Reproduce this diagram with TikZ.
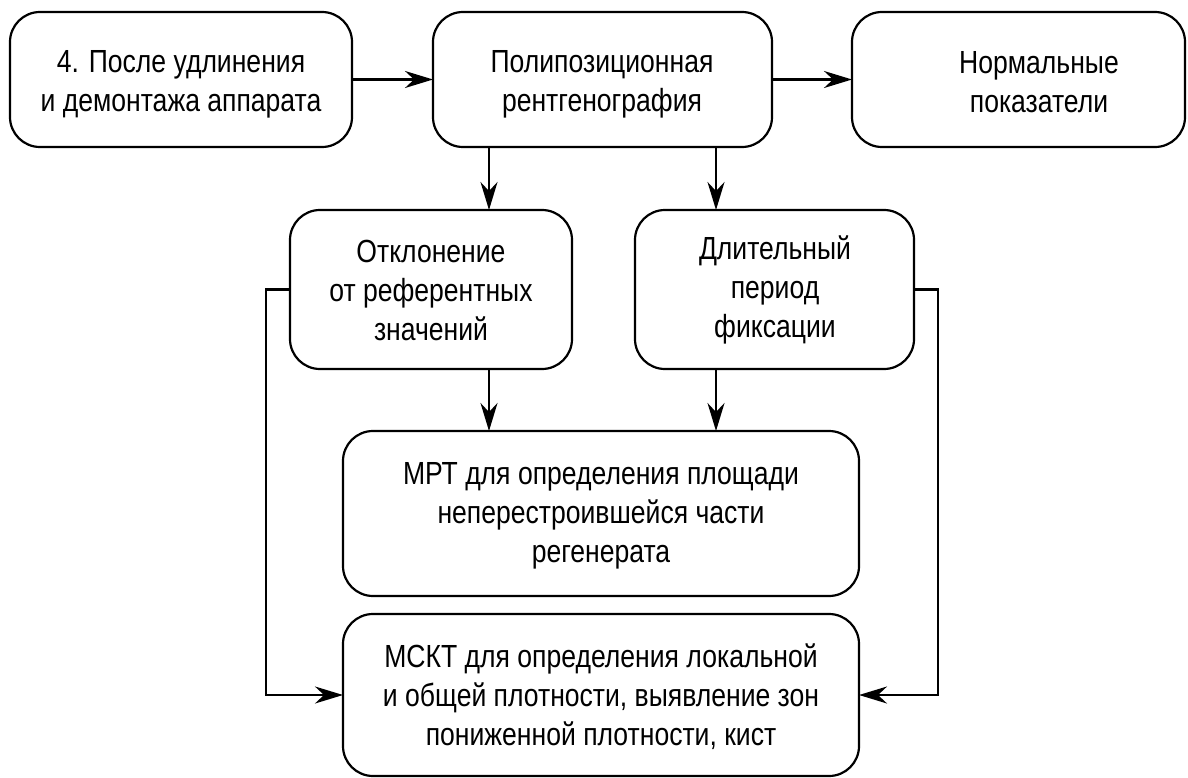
\documentclass[tikz,border=0pt]{standalone}
\usepackage{fontspec}
\setmainfont{Liberation Sans}[FakeStretch=0.83]
\usetikzlibrary{arrows.meta}
\begin{document}
\begin{tikzpicture}[x=1pt,y=-1pt,
  box/.style={draw=black, line width=2.2pt, rounded corners=30pt, rectangle, inner sep=0pt, outer sep=0pt},
  txt/.style={align=center, font=\fontsize{32}{39}\selectfont, inner sep=0pt},
  arr/.style={draw=black, line width=2.2pt, -{Stealth[length=28pt,width=17pt,inset=9pt]}},
  lin/.style={draw=black, line width=2.2pt}]
\useasboundingbox (0,0) rectangle (1188,778);
% boxes
\node[box, minimum width=342pt, minimum height=135pt] (b1) at (181,79.5) {};
\node[box, minimum width=339pt, minimum height=135pt] (b2) at (602.5,79.5) {};
\node[box, minimum width=333pt, minimum height=135pt] (b3) at (1018.5,79.5) {};
\node[box, minimum width=282pt, minimum height=159pt] (b4) at (431,289.5) {};
\node[box, minimum width=279pt, minimum height=159pt] (b5) at (774.5,289.5) {};
\node[box, minimum width=516pt, minimum height=165pt] (b6) at (601,513.5) {};
\node[box, minimum width=516pt, minimum height=162pt] (b7) at (601,695) {};
% texts
\node[txt] (t1) at (181,84) {4. После удлинения\\и демонтажа аппарата};
\node[txt] (t2) at (602,84) {Полипозиционная\\рентгенография};
\node[txt] (t3) at (1039,82) {Нормальные\\показатели};
\node[txt] (t4) at (431,290) {Отклонение\\от референтных\\значений};
\node[txt] (t5) at (775,290) {Длительный\\период\\фиксации};
\node[txt] (t6) at (601,516) {МРТ для определения площади\\неперестроившейся части\\регенерата};
\node[txt] (t7) at (601,697) {МСКТ для определения локальной\\и общей плотности, выявление зон\\пониженной плотности, кист};
% connector guides
\coordinate (xa) at (489,0);
\coordinate (xb) at (716,0);
\coordinate (xl) at (266,0);
\coordinate (xr) at (938,0);
% connectors
\draw[arr] (b1.east) -- (b2.west);
\draw[arr] (b2.east) -- (b3.west);
\draw[arr] (b2.south -| xa) -- (b4.north -| xa);
\draw[arr] (b2.south -| xb) -- (b5.north -| xb);
\draw[arr] (b4.south -| xa) -- (b6.north -| xa);
\draw[arr] (b5.south -| xb) -- (b6.north -| xb);
\draw[arr] (b4.west) -- (b4.west -| xl) |- (b7.west);
\draw[arr] (b5.east) -- (b5.east -| xr) |- (b7.east);
\end{tikzpicture}
\end{document}
